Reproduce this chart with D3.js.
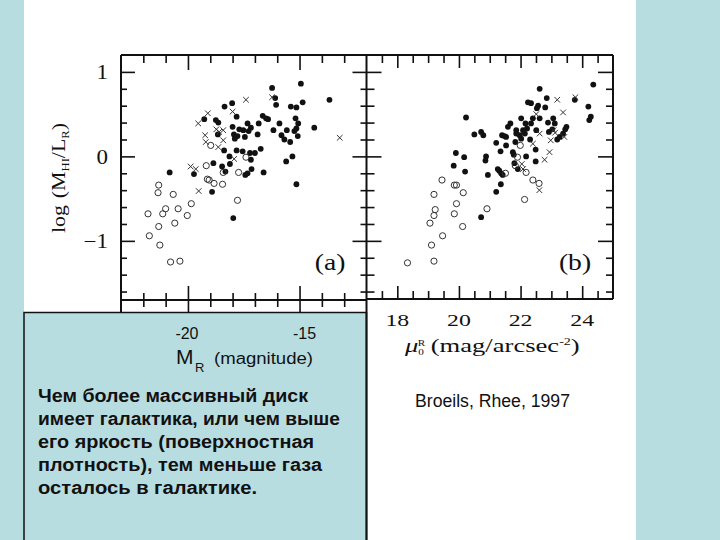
<!DOCTYPE html>
<html>
<head>
<meta charset="utf-8">
<script src="https://cdn.jsdelivr.net/npm/d3@7"></script>
<style>
  html, body { margin: 0; padding: 0; background: #fff; }
  svg { display: block; }
</style>
</head>
<body>
<svg id="chart" width="720" height="540"></svg>
<script>
// ---------------- DATA ----------------
// Panel (a): x = M_R (magnitude), y = log(M_HI/L_R)
const panelA_filled = [
  [-14.94,0.86],[-16.23,0.81],[-16.09,0.69],[-14.86,0.64],[-13.66,0.67],[-16.05,0.61],[-18.02,0.63],
  [-18.36,0.59],[-15.39,0.59],[-15.14,0.58],[-17.82,0.47],[-19.27,0.44],[-18.75,0.43],[-18.64,0.40],
  [-16.65,0.48],[-16.5,0.45],[-16.41,0.44],[-16.83,0.39],[-15.9,0.39],[-15.18,0.45],[-15.06,0.39],
  [-15.14,0.33],[-14.34,0.34],[-17.33,0.39],[-17.18,0.34],[-18.0,0.35],[-17.7,0.32],[-17.52,0.31],
  [-17.28,0.30],[-17.94,0.26],[-17.78,0.24],[-17.9,0.21],[-17.45,0.23],[-16.88,0.26],[-16.17,0.31],
  [-15.81,0.25],[-15.57,0.31],[-15.68,0.20],[-15.42,0.17],[-15.23,0.30],[-15.08,0.24],[-18.66,0.26],
  [-18.38,0.07],[-17.82,0.07],[-17.55,0.06],[-17.22,0.04],[-17.0,0.04],[-16.74,0.09],[-18.14,0.0],
  [-17.18,-0.04],[-15.6,-0.06],[-15.32,0.0],[-18.86,-0.08],[-18.47,-0.12],[-18.12,-0.09],[-17.15,-0.15],
  [-17.33,-0.20],[-17.43,-0.22],[-16.61,-0.19],[-18.32,-0.18],[-20.82,-0.19],[-19.73,-0.21],
  [-18.92,-0.42],[-15.14,-0.33],[-17.97,-0.73]
];
const panelA_open = [
  [-19.18,-0.11],[-19.13,-0.27],[-19.05,-0.28],[-18.83,-0.32],[-18.45,-0.33],[-18.42,-0.19],
  [-17.73,-0.19],[-17.78,-0.52],[-17.4,-0.01],[-18.98,0.13],[-19.85,-0.56],[-20.03,-0.70],
  [-20.44,-0.62],[-20.59,-0.79],[-20.66,-0.45],[-21.0,-0.62],[-21.13,-0.68],[-21.31,-0.34],
  [-21.34,-0.43],[-21.31,-0.83],[-21.79,-0.68],[-21.73,-0.94],[-21.26,-1.05],[-20.78,-1.25],
  [-20.36,-1.24]
];
const panelA_cross = [
  [-17.4,0.67],[-18.0,0.53],[-19.11,0.51],[-19.54,0.39],[-18.73,0.32],[-18.6,0.29],[-18.42,0.31],
  [-19.23,0.25],[-19.2,0.17],[-18.42,0.19],[-18.64,0.11],[-17.93,-0.03],[-13.2,0.22],[-19.88,-0.12],
  [-19.65,-0.15],[-19.52,-0.41],[-16.23,0.70]
];
// Panel (b): x = central surface brightness mu_0^R, y = log(M_HI/L_R)
const panelB_filled = [
  [24.36,0.85],[22.62,0.80],[22.85,0.69],[22.24,0.64],[22.34,0.63],[22.57,0.60],[22.53,0.57],
  [22.8,0.58],[23.76,0.67],[24.2,0.59],[20.23,0.46],[24.23,0.43],[24.28,0.47],[20.5,0.26],
  [20.72,0.29],[20.79,0.25],[21.67,0.39],[21.59,0.35],[21.86,0.31],[22.02,0.45],[22.16,0.39],
  [22.34,0.39],[22.4,0.45],[22.62,0.45],[22.21,0.33],[22.51,0.31],[22.89,0.40],[23.06,0.45],
  [23.11,0.39],[22.92,0.29],[23.03,0.32],[23.49,0.35],[23.45,0.32],[23.38,0.27],[23.19,0.20],
  [23.27,0.23],[21.4,0.25],[21.48,0.24],[21.53,0.23],[21.86,0.27],[21.97,0.25],[22.14,0.27],
  [21.21,0.16],[21.53,0.13],[21.83,0.17],[22.02,0.21],[22.31,0.20],[22.49,0.08],[21.35,0.06],
  [21.75,0.05],[21.78,0.02],[22.18,0.0],[22.49,-0.06],[19.9,0.04],[20.17,-0.01],[20.88,0.0],
  [20.86,-0.05],[19.83,-0.11],[20.2,-0.18],[21.26,-0.15],[21.37,-0.20],[21.42,-0.22],[21.31,-0.17],
  [21.8,-0.08],[21.91,-0.15],[20.94,-0.22],[21.36,-0.33],[21.21,-0.42],[20.72,-0.72],[22.08,0.31]
];
const panelB_open = [
  [19.45,-0.28],[19.85,-0.34],[19.92,-0.34],[20.14,-0.43],[19.19,-0.45],[19.92,-0.56],[19.23,-0.63],
  [19.19,-0.70],[19.85,-0.68],[19.06,-0.79],[20.12,-0.83],[20.91,-0.62],[19.47,-0.94],[19.11,-1.05],
  [19.19,-1.24],[18.33,-1.26],[22.13,-0.51],[22.4,-0.28],[22.6,-0.32],[21.51,-0.20],[22.18,-0.19],
  [21.99,0.13],[21.9,-0.01],[21.83,-0.11]
];
const panelB_cross = [
  [23.19,0.67],[23.38,0.52],[23.78,0.70],[22.51,0.50],[23.07,0.31],[23.12,0.28],[22.98,0.19],
  [23.42,0.23],[22.62,0.27],[22.4,0.15],[22.94,0.05],[22.78,-0.04],[22.04,-0.09],[22.08,-0.15],
  [22.61,-0.40]
];

// Tick values / labels
const yMajor = [-1, 0, 1];
const yMinor = [-1.6,-1.4,-1.2,-0.8,-0.6,-0.4,-0.2,0.2,0.4,0.6,0.8];
const yLabels = ["\u22121", "0", "1"];
const aXMajor = [-20, -15];
const aXMinor = [-22,-21,-19,-18,-17,-16,-14,-13];
const aXLabels = ["-20", "-15"];
const bXMajor = [18, 20, 22, 24];
const bXMinor = [17.5,18.5,19,19.5,20.5,21,21.5,22.5,23,23.5,24.5];
const bXLabels = ["18", "20", "22", "24"];
const bodyLines = [
  "Чем более массивный диск",
  "имеет галактика, или чем выше",
  "его яркость (поверхностная",
  "плотность), тем меньше газа",
  "осталось в галактике."
];
const bodyWidths = [270, 302, 276, 284, 219];
const citation = "Broeils, Rhee, 1997";

// ---------------- DRAW ----------------
const svg = d3.select("#chart");
const BLUE = "#b8dde1";
const INK = "#111";
const SERIF = "'Liberation Serif', 'DejaVu Serif', serif";
const SANS = "'Liberation Sans', Arial, sans-serif";

svg.append("rect").attr("width", 720).attr("height", 540).attr("fill", "#fff");
svg.append("rect").attr("x", 0).attr("y", 0).attr("width", 24).attr("height", 540).attr("fill", BLUE);
svg.append("rect").attr("x", 636).attr("y", 0).attr("width", 84).attr("height", 540).attr("fill", BLUE);

const L_A = 121, R_A = 366.5, R_B = 613, TOP = 55, BOT = 300;
const xa = d3.scaleLinear().domain([-23, -12]).range([L_A, R_A]);
const xb = d3.scaleLinear().domain([17, 25]).range([R_A, R_B]);
const y = d3.scaleLinear().domain([-1.7, 1.2]).range([BOT, TOP]);

// tick helper using d3 axes
function ticks(axisFn, scale, values, size, transform) {
  const g = svg.append("g").attr("transform", transform)
    .call(axisFn(scale).tickValues(values).tickSize(size).tickFormat(""));
  g.select(".domain").remove();
  g.selectAll("line").attr("stroke", INK).attr("stroke-width", 1.6);
}
// Panel a
ticks(d3.axisRight, y, yMinor, 6, `translate(${L_A},0)`);
ticks(d3.axisRight, y, yMajor, 14, `translate(${L_A},0)`);
ticks(d3.axisLeft, y, yMinor, 6, `translate(${R_A},0)`);
ticks(d3.axisLeft, y, yMajor, 14, `translate(${R_A},0)`);
ticks(d3.axisBottom, xa, aXMinor, 8, `translate(0,${TOP})`);
ticks(d3.axisBottom, xa, aXMajor, 15, `translate(0,${TOP})`);
ticks(d3.axisTop, xa, aXMinor, 14, `translate(0,307)`);
ticks(d3.axisTop, xa, aXMajor, 26, `translate(0,312)`);
// Panel b
ticks(d3.axisRight, y, yMinor, 8, `translate(${R_A},0)`);
ticks(d3.axisRight, y, yMajor, 15, `translate(${R_A},0)`);
ticks(d3.axisLeft, y, yMinor, 7, `translate(${R_B},0)`);
ticks(d3.axisLeft, y, yMajor, 15, `translate(${R_B},0)`);
ticks(d3.axisBottom, xb, bXMinor, 8, `translate(0,${TOP})`);
ticks(d3.axisBottom, xb, bXMajor, 13, `translate(0,${TOP})`);
ticks(d3.axisTop, xb, bXMinor, 8, `translate(0,299)`);
ticks(d3.axisTop, xb, bXMajor, 13, `translate(0,299)`);

// Text box (lower left)
svg.append("rect").attr("x", 24).attr("y", 312.5).attr("width", R_A - 24).attr("height", 240)
  .attr("fill", BLUE).attr("stroke", INK).attr("stroke-width", 1.5);

// frame lines
const frame = [
  [L_A, TOP, R_B, TOP],
  [L_A, TOP, L_A, 312.5],
  [R_A, TOP, R_A, 540],
  [L_A, BOT, R_A, BOT],
  [R_A, 299, R_B, 299],
  [R_B, TOP, R_B, 299]
];
svg.append("g").selectAll("line").data(frame).join("line")
  .attr("x1", d => d[0]).attr("y1", d => d[1]).attr("x2", d => d[2]).attr("y2", d => d[3])
  .attr("stroke", INK).attr("stroke-width", 2);

// markers
function drawPanel(xs, filled, open, cross) {
  const g = svg.append("g");
  g.selectAll("circle.f").data(filled).join("circle").attr("class", "f")
    .attr("cx", d => xs(d[0])).attr("cy", d => y(d[1])).attr("r", 2.9).attr("fill", INK);
  g.selectAll("circle.o").data(open).join("circle").attr("class", "o")
    .attr("cx", d => xs(d[0])).attr("cy", d => y(d[1])).attr("r", 3.1)
    .attr("fill", "none").attr("stroke", "#333").attr("stroke-width", 1);
  g.selectAll("path.x").data(cross).join("path").attr("class", "x")
    .attr("d", d => {
      const cx = xs(d[0]), cy = y(d[1]), s = 2.8;
      return `M${cx - s},${cy - s}L${cx + s},${cy + s}M${cx - s},${cy + s}L${cx + s},${cy - s}`;
    })
    .attr("stroke", "#333").attr("stroke-width", 1).attr("fill", "none");
}
drawPanel(xa, panelA_filled, panelA_open, panelA_cross);
drawPanel(xb, panelB_filled, panelB_open, panelB_cross);

// y tick labels
svg.append("g").selectAll("text").data(yMajor).join("text")
  .attr("transform", d => `translate(108,${y(d) + 7.5}) scale(1.15,1)`)
  .attr("text-anchor", "end").attr("font-family", SERIF).attr("font-size", 20).attr("fill", INK)
  .text((d, i) => yLabels[i]);

// y axis title (rotated)
const yt = svg.append("text")
  .attr("transform", "translate(65,178) rotate(-90) scale(1.15,1)")
  .attr("text-anchor", "middle").attr("font-family", SERIF).attr("font-size", 19).attr("fill", INK);
yt.append("tspan").text("log");
yt.append("tspan").attr("dx", 6).text("(M");
yt.append("tspan").attr("font-size", 11).attr("dy", 4).text("HI");
yt.append("tspan").attr("dy", -4).text("/L");
yt.append("tspan").attr("font-size", 11).attr("dy", 4).text("R");
yt.append("tspan").attr("dy", -4).text(")");

// panel tags
svg.append("text").attr("transform", "translate(330,270) scale(1.15,1)")
  .attr("text-anchor", "middle").attr("font-family", SERIF).attr("font-size", 24).attr("fill", INK).text("(a)");
svg.append("text").attr("transform", "translate(575,270) scale(1.15,1)")
  .attr("text-anchor", "middle").attr("font-family", SERIF).attr("font-size", 24).attr("fill", INK).text("(b)");

// panel b x tick labels
svg.append("g").selectAll("text").data(bXMajor).join("text")
  .attr("transform", d => `translate(${xb(d)},326) scale(1.4,1)`)
  .attr("text-anchor", "middle").attr("font-family", SERIF).attr("font-size", 17).attr("fill", INK)
  .text((d, i) => bXLabels[i]);

// panel b x title
const xt = svg.append("text").attr("transform", "translate(405,352) scale(1.4,1)")
  .attr("font-family", SERIF).attr("font-size", 19).attr("fill", INK);
xt.append("tspan").attr("font-style", "italic").text("μ");
xt.append("tspan").attr("font-size", 8).attr("dy", 3).text("0");
xt.append("tspan").attr("font-size", 8).attr("dx", -4.5).attr("dy", -9).text("R");
xt.append("tspan").attr("dx", 4).attr("dy", 6).text("(mag/arcsec");
xt.append("tspan").attr("font-size", 10).attr("dy", -7).text("-2");
xt.append("tspan").attr("dy", 7).text(")");

// panel a x tick labels (in the box)
svg.append("g").selectAll("text").data(aXMajor).join("text")
  .attr("x", (d, i) => xa(d) + (i === 0 ? -1 : 5)).attr("y", 339)
  .attr("text-anchor", "middle").attr("font-family", SANS).attr("font-size", 16).attr("fill", INK)
  .text((d, i) => aXLabels[i]);

// M_R (magnitude)
svg.append("text").attr("x", 176).attr("y", 364).attr("font-family", SANS).attr("font-size", 21)
  .attr("fill", INK).text("M");
svg.append("text").attr("x", 195).attr("y", 371.5).attr("font-family", SANS).attr("font-size", 13)
  .attr("fill", INK).text("R");
svg.append("text").attr("x", 214).attr("y", 364).attr("font-family", SANS).attr("font-size", 16)
  .attr("textLength", 99).attr("lengthAdjust", "spacingAndGlyphs").attr("fill", INK).text("(magnitude)");

// body text
svg.append("g").selectAll("text").data(bodyLines).join("text")
  .attr("x", 38).attr("y", (d, i) => 401.5 + i * 23.2)
  .attr("font-family", SANS).attr("font-weight", "bold").attr("font-size", 17.5).attr("fill", INK)
  .attr("textLength", (d, i) => bodyWidths[i]).attr("lengthAdjust", "spacingAndGlyphs")
  .text(d => d);

// citation
svg.append("text").attr("x", 415).attr("y", 407).attr("font-family", SANS).attr("font-size", 17.5)
  .attr("textLength", 155).attr("lengthAdjust", "spacingAndGlyphs").attr("fill", INK).text(citation);
</script>
</body>
</html>
